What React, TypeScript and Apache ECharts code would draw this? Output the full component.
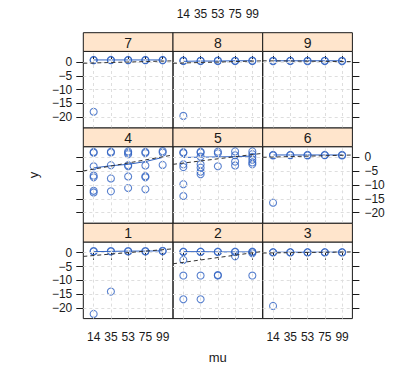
import React, { useEffect, useRef } from "react";
import * as echarts from "echarts";

// ---------- data ----------
const muLevels = ["14", "35", "53", "75", "99"];
const yTicks = [0, -5, -10, -15, -20];
const panelNames = ["1", "2", "3", "4", "5", "6", "7", "8", "9"];

// points: [mu level index (1..5), y]
const pts1 = [[1, 0.6], [1, 0.45], [2, 0.6], [2, 0.45], [3, 0.6], [3, 0.45], [4, 0.6], [4, 0.45], [5, 0.7], [5, 0.55], [1, -22.2], [2, -14.1]];
const pts2 = [[1, 0.4], [1, 0.25], [2, 0.4], [2, 0.3], [3, 0.4], [3, 0.25], [4, 0.4], [4, 0.25], [5, 0.4], [5, 0.25], [1, -2.6], [1, -8.3], [1, -16.9], [2, -8.3], [2, -16.9], [3, -8.3], [3, -8.1], [4, -1.3], [5, -0.2], [5, -8.3]];
const pts3 = [[1, 0.2], [1, 0.1], [2, 0.2], [2, 0.1], [3, 0.2], [3, 0.1], [4, 0.2], [4, 0.1], [5, 0.2], [5, 0.05], [1, -19.3]];
const pts4 = [[1, 2.0], [1, 1.7], [1, -3.2], [1, -6.6], [1, -7.2], [1, -12.1], [1, -12.7], [2, 2.1], [2, 1.8], [2, -2.8], [2, -7.6], [2, -12.3], [3, 2.2], [3, 1.7], [3, 1.2], [3, -2.8], [3, -3.2], [3, -6.9], [3, -11.1], [4, 2.0], [4, 1.6], [4, -2.9], [4, -6.8], [4, -7.2], [4, -11.5], [5, 2.3], [5, 1.8], [5, -2.7]];
const pts5 = [[1, 1.9], [1, 1.6], [1, -2.5], [1, -3.5], [1, -9.7], [1, -14.0], [2, 2.1], [2, 1.8], [2, 0.3], [2, -2.5], [2, -3.7], [2, -5.2], [2, -6.1], [3, 2.1], [3, 1.5], [3, -3.2], [4, 2.2], [4, 0.8], [4, -1.5], [4, -2.9], [5, 2.2], [5, 1.2], [5, 0.2], [5, -0.8], [5, -1.8], [5, -2.5]];
const pts6 = [[1, 0.9], [1, 0.75], [2, 0.9], [2, 0.8], [3, 0.9], [3, 0.75], [4, 0.9], [4, 0.8], [5, 0.9], [5, 0.75], [1, -16.4]];
const pts7 = [[1, 0.8], [1, 0.65], [2, 0.8], [2, 0.7], [3, 0.8], [3, 0.65], [4, 0.8], [4, 0.7], [5, 0.8], [5, 0.65], [1, -18.0]];
const pts8 = [[1, 0.4], [1, 0.55], [2, 0.4], [2, 0.5], [3, 0.4], [3, 0.55], [4, 0.4], [4, 0.5], [5, 0.4], [5, 0.55], [1, -19.5]];
const pts9 = [[1, 0.5], [1, 0.35], [2, 0.5], [2, 0.4], [3, 0.5], [3, 0.35], [4, 0.5], [4, 0.4], [5, 0.5], [5, 0.3]];

// averages at each mu level (solid blue line)
const avg1 = [0.4, 0.5, 0.6, 0.6, 0.7];
const avg2 = [0.4, 0.4, 0.3, 0.3, 0.3];
const avg3 = [0.2, 0.2, 0.2, 0.2, 0.2];
const avg4 = [-3.8, -3.0, -2.5, -1.5, 0.0];
const avg5 = [0.0, 0.1, 0.2, 0.3, 0.5];
const avg6 = [0.9, 0.9, 0.9, 0.9, 0.9];
const avg7 = [0.8, 0.8, 0.8, 0.8, 0.8];
const avg8 = [0.3, 0.4, 0.4, 0.5, 0.5];
const avg9 = [0.5, 0.5, 0.5, 0.5, 0.5];

// regression lines (dashed): y = a + b * level
const regIntercept = [-1.54, -4.35, -0.13, -5.35, -2.81, -0.01, -0.47, -0.47, 0.52];
const regSlope = [0.53, 0.865, 0.077, 1.115, 0.77, 0.16, 0.17, 0.17, -0.06];

const allPts = [pts1, pts2, pts3, pts4, pts5, pts6, pts7, pts8, pts9];
const allAvg = [avg1, avg2, avg3, avg4, avg5, avg6, avg7, avg8, avg9];

// ---------- layout ----------
const W = 394;
const H = 376;
const COLX = [83.3, 173.0, 262.7];
const PW = 89.7;
const STRIP_TOP = [32.7, 128.0, 223.3];
const SH = 18.7;
const PH = 76.6;
const XMIN = 0.4;
const XMAX = 5.6;
const YMIN = -23.9;
const YMAX = 3.9;
const BLUE = "#2f62c2";
const INK = "#1a1a1a";
const FONT = "Liberation Sans, Arial, Helvetica, sans-serif";

const fmtY = (v: number) => String(Math.round(v)).replace("-", "\u2212");
const fmtX = (v: number) => muLevels[Math.round(v) - 1] ?? "";

function buildOption() {
  const grid: any[] = [];
  const xAxis: any[] = [];
  const yAxis: any[] = [];
  const series: any[] = [];
  const graphic: any[] = [];
  const levels = [1, 2, 3, 4, 5];

  for (let k = 0; k < 9; k++) {
    const row = 2 - Math.floor(k / 3); // 0 = top row
    const col = k % 3;
    const left = COLX[col];
    const stripTop = STRIP_TOP[row];
    const top = stripTop + SH;

    grid.push({
      left,
      top,
      width: PW,
      height: PH,
      show: true,
      borderColor: INK,
      borderWidth: 1,
      backgroundColor: "transparent",
      containLabel: false,
    });

    const tickStyle = { show: true, length: 7, inside: false, lineStyle: { color: INK, width: 1 } };
    const labelStyle = { fontSize: 12, color: INK, fontFamily: FONT };

    // bottom x axis
    xAxis.push({
      type: "value",
      gridIndex: k,
      position: "bottom",
      min: XMIN,
      max: XMAX,
      show: row === 2,
      axisLine: { show: false },
      splitLine: { show: false },
      axisTick: { ...tickStyle, customValues: levels },
      axisLabel: { ...labelStyle, show: row === 2 && col !== 1, customValues: levels, formatter: fmtX, margin: 12 },
    });
    // top x axis (above strip)
    xAxis.push({
      type: "value",
      gridIndex: k,
      position: "top",
      offset: SH,
      min: XMIN,
      max: XMAX,
      show: row === 0,
      axisLine: { show: false },
      splitLine: { show: false },
      axisTick: { ...tickStyle, customValues: levels },
      axisLabel: { ...labelStyle, show: row === 0 && col === 1, customValues: levels, formatter: fmtX, margin: 13 },
    });
    // left y axis
    yAxis.push({
      type: "value",
      gridIndex: k,
      position: "left",
      min: YMIN,
      max: YMAX,
      show: col === 0,
      axisLine: { show: false },
      splitLine: { show: false },
      axisTick: { ...tickStyle, customValues: yTicks },
      axisLabel: { ...labelStyle, show: col === 0 && row !== 1, customValues: yTicks, formatter: fmtY, margin: 11 },
    });
    // right y axis
    yAxis.push({
      type: "value",
      gridIndex: k,
      position: "right",
      min: YMIN,
      max: YMAX,
      show: col === 2,
      axisLine: { show: false },
      splitLine: { show: false },
      axisTick: { ...tickStyle, customValues: yTicks },
      axisLabel: { ...labelStyle, show: col === 2 && row === 1, customValues: yTicks, formatter: fmtY, margin: 12 },
    });

    const xi = 2 * k;
    const yi = 2 * k;

    // reference grid lines
    series.push({
      type: "line",
      xAxisIndex: xi,
      yAxisIndex: yi,
      data: [],
      silent: true,
      z: 1,
      markLine: {
        silent: true,
        symbol: ["none", "none"],
        label: { show: false },
        lineStyle: { color: "#dedede", type: [3, 3], width: 1 },
        data: [...levels.map((x) => ({ xAxis: x })), ...yTicks.map((y) => ({ yAxis: y }))],
      },
    });

    // points
    series.push({
      type: "scatter",
      xAxisIndex: xi,
      yAxisIndex: yi,
      data: allPts[k],
      symbol: "circle",
      symbolSize: 7,
      itemStyle: { color: "rgba(0,0,0,0)", borderColor: BLUE, borderWidth: 1.1 },
      z: 3,
    });

    // averages
    series.push({
      type: "line",
      xAxisIndex: xi,
      yAxisIndex: yi,
      data: allAvg[k].map((v, i) => [levels[i], v]),
      symbol: "none",
      lineStyle: { color: BLUE, width: 1 },
      z: 4,
    });

    // regression
    const a = regIntercept[k];
    const b = regSlope[k];
    series.push({
      type: "line",
      xAxisIndex: xi,
      yAxisIndex: yi,
      data: [[XMIN, a + b * XMIN], [XMAX, a + b * XMAX]],
      symbol: "none",
      lineStyle: { color: "#333333", width: 1, type: [4, 3] },
      z: 5,
    });

    // strip
    graphic.push({
      type: "rect",
      shape: { x: left, y: stripTop, width: PW, height: SH },
      style: { fill: "#ffe5cc", stroke: INK, lineWidth: 1 },
      z: 10,
    });
    graphic.push({
      type: "text",
      x: left + PW / 2,
      y: stripTop + SH / 2 + 0.5,
      style: {
        text: panelNames[k],
        fill: INK,
        font: `14px ${FONT}`,
        textAlign: "center",
        textVerticalAlign: "middle",
      },
      z: 11,
    });
  }

  graphic.push({
    type: "text",
    x: 33,
    y: 175,
    rotation: Math.PI / 2,
    style: { text: "y", fill: INK, font: `13px ${FONT}`, textAlign: "center", textVerticalAlign: "middle" },
  });
  graphic.push({
    type: "text",
    x: 217.8,
    y: 357,
    style: { text: "mu", fill: INK, font: `13px ${FONT}`, textAlign: "center", textVerticalAlign: "middle" },
  });

  return {
    animation: false,
    backgroundColor: "#ffffff",
    textStyle: { fontFamily: FONT },
    grid,
    xAxis,
    yAxis,
    series,
    graphic,
  };
}

export default function App() {
  const ref = useRef<HTMLDivElement>(null);
  useEffect(() => {
    if (!ref.current) return;
    const chart = echarts.init(ref.current, undefined, { renderer: "svg" });
    chart.setOption(buildOption() as any);
    return () => chart.dispose();
  }, []);
  return <div ref={ref} style={{ position: "absolute", left: 0, top: 0, width: W, height: H }} />;
}
